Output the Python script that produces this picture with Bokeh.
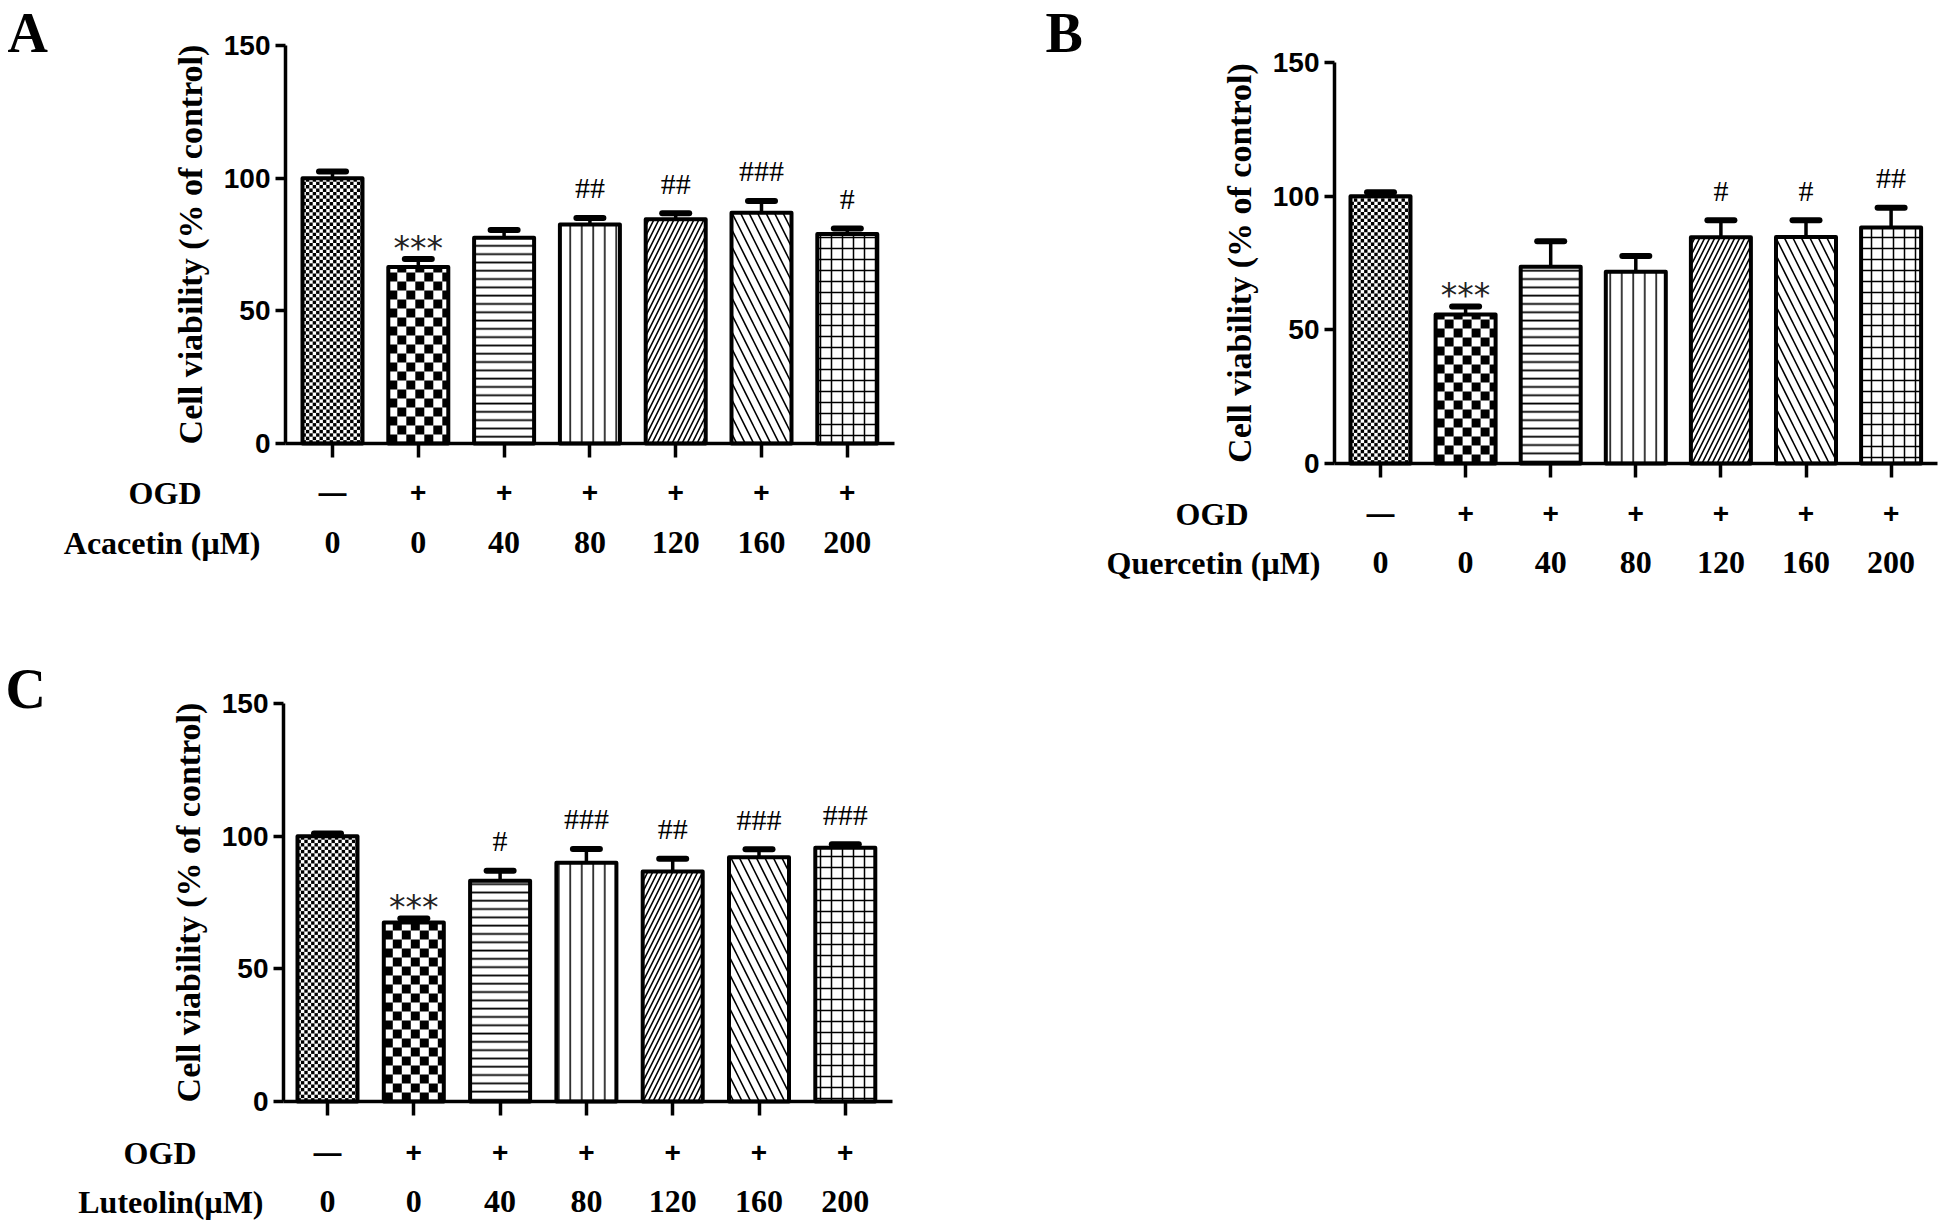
import math
from bokeh.plotting import figure
from bokeh.models import LinearAxis, FixedTicker, ColumnDataSource, Range1d
from bokeh.layouts import column, row
from bokeh.embed import file_html
from bokeh.resources import INLINE
from bokeh.core.properties import value

# ---------------- data ----------------
ogd_row = ["—", "+", "+", "+", "+", "+", "+"]
conc_row = ["0", "0", "40", "80", "120", "160", "200"]
y_ticks = [0, 50, 100, 150]
y_label = "Cell viability (% of control)"

acacetin_mean = [100, 66.5, 77.5, 82.5, 84.5, 87.0, 79.0]
acacetin_err = [2.5, 3.0, 3.0, 2.5, 2.3, 4.4, 2.0]
acacetin_sig = ["", "***", "", "##", "##", "###", "#"]

quercetin_mean = [100, 55.7, 73.6, 71.7, 84.6, 84.7, 88.3]
quercetin_err = [1.5, 3.0, 9.5, 5.9, 6.4, 6.3, 7.4]
quercetin_sig = ["", "***", "", "", "#", "#", "##"]

luteolin_mean = [100, 67.5, 83.2, 90.0, 86.7, 92.1, 95.6]
luteolin_err = [1.0, 1.5, 3.8, 5.2, 4.8, 3.0, 1.4]
luteolin_sig = ["", "***", "#", "###", "##", "###", "###"]

# ---------------- styles ----------------
SERIF = "Liberation Serif"
SANS = "Liberation Sans"
hatch_patterns = [" ", " ", "-", "|", "/", "\\", "+"]
hatch_scales = [12, 12, 8.3, 11.5, 10, 17, 11]
hatch_weights = [1, 1, 1.8, 1.5, 1.6, 1.6, 1.5]
checker_cells = {0: 3.4, 1: 9.0}   # bar index -> cell size in px
BAR_PX = 60
LW = 4


def make_panel(letter, drug_label, mean, err, sig, W, H, ax_px, b0_px, dx,
               y0_px, y150_px, letter_xy, ogd_y, ogd_right, drug_y, drug_right,
               ylabel_standoff):
    ky = (y0_px - y150_px) / 150.0   # px per data unit (y)
    kx = dx                           # px per data unit (x)

    def X(px):
        return (px - b0_px) / kx

    def Y(py):
        return (y0_px - py) / ky

    p = figure(width=W, height=H, x_range=Range1d(X(0), X(W)),
               y_range=Range1d(Y(H), Y(0)), output_backend="svg",
               toolbar_location=None, min_border=0, x_axis_type=None,
               y_axis_type=None, outline_line_color=None)
    p.background_fill_color = "white"
    p.border_fill_color = "white"

    n = len(mean)
    xs = list(range(n))
    bw = BAR_PX / kx
    src = ColumnDataSource(dict(x=xs, top=mean, hp=hatch_patterns,
                                hs=hatch_scales, hw=hatch_weights))
    # bar fills with hatches
    p.vbar(x="x", top="top", bottom=0, width=bw, source=src,
           fill_color="white", line_color=None, hatch_pattern="hp",
           hatch_scale="hs", hatch_weight="hw", hatch_color="black")

    # checkerboard fills
    L, R, B, T = [], [], [], []
    for i, c in checker_cells.items():
        left_px = -BAR_PX / 2
        h_px = mean[i] * ky
        nx = int(math.ceil(BAR_PX / c))
        ny = int(math.ceil(h_px / c))
        for a in range(nx):
            for b in range(ny):
                if (a + b) % 2:
                    continue
                l = left_px + a * c
                r = min(l + c, BAR_PX / 2)
                bt = b * c
                tp = min(bt + c, h_px)
                L.append(i + l / kx)
                R.append(i + r / kx)
                B.append(bt / ky)
                T.append(tp / ky)
    p.quad(left=L, right=R, bottom=B, top=T, fill_color="black",
           line_color=None)

    # bar outlines
    p.vbar(x="x", top="top", bottom=0, width=bw, source=src,
           fill_alpha=0, line_color="black", line_width=LW,
           line_join="round")

    # error bars (upper only)
    caps = [m + e for m, e in zip(mean, err)]
    p.segment(x0=xs, y0=mean, x1=xs, y1=caps, line_color="black",
              line_width=3.5)
    half_cap = 13.5 / kx
    p.segment(x0=[x - half_cap for x in xs], y0=caps,
              x1=[x + half_cap for x in xs], y1=caps, line_color="black",
              line_width=6, line_cap="round")

    # significance markers
    hx, hy, ht, sx, sy, st = [], [], [], [], [], []
    for i, s in enumerate(sig):
        if not s:
            continue
        if s.startswith("*"):
            sx.append(i); sy.append(caps[i] + 11.0 / ky); st.append(s)
        else:
            hx.append(i); hy.append(caps[i] + 30.0 / ky); ht.append(s)
    p.text(x=hx, y=hy, text=ht, text_font=value(SERIF),
           text_font_size="30px", text_align="center",
           text_baseline="alphabetic", text_color="black")
    p.text(x=sx, y=sy, text=st, text_font=value("DejaVu Sans"),
           text_font_size="33px", text_align="center",
           text_baseline="alphabetic", text_color="#222222")

    # axes
    x_axis_at = X(ax_px)
    yax = LinearAxis(fixed_location=x_axis_at, bounds=(0, 150),
                     ticker=FixedTicker(ticks=y_ticks, minor_ticks=[]),
                     axis_label=y_label)
    yax.axis_line_width = 3.5
    yax.major_tick_line_width = 3.5
    yax.major_tick_out = 10
    yax.major_tick_in = 0
    yax.minor_tick_out = 0
    yax.minor_tick_in = 0
    yax.major_label_standoff = 5
    yax.major_label_text_font = SANS
    yax.major_label_text_font_style = "bold"
    yax.major_label_text_font_size = "28px"
    yax.major_label_text_color = "black"
    yax.axis_label_text_font = SERIF
    yax.axis_label_text_font_style = "bold"
    yax.axis_label_text_font_size = "34px"
    yax.axis_label_text_color = "black"
    yax.axis_label_standoff = ylabel_standoff
    p.add_layout(yax, "left")

    xax = LinearAxis(fixed_location=0, bounds=(x_axis_at, n - 1 + 0.55),
                     ticker=FixedTicker(ticks=xs, minor_ticks=[]))
    xax.axis_line_width = 3.5
    xax.major_tick_line_width = 3.5
    xax.major_tick_out = 14
    xax.major_tick_in = 0
    xax.minor_tick_out = 0
    xax.major_label_text_font_size = "0px"
    xax.major_label_text_alpha = 0
    p.add_layout(xax, "below")

    # condition rows
    sign_y = Y(ogd_y)
    p.text(x=xs, y=[sign_y] * n, text=ogd_row, text_font=value(SANS),
           text_font_size="28px", text_font_style="bold",
           text_align="center", text_baseline="middle", text_color="black")
    conc_y = Y(drug_y)
    p.text(x=xs, y=[conc_y] * n, text=conc_row, text_font=value(SERIF),
           text_font_size="32px", text_font_style="bold",
           text_align="center", text_baseline="middle", text_color="black")
    p.text(x=[X(ogd_right)], y=[sign_y], text=["OGD"],
           text_font=value(SERIF), text_font_size="32px",
           text_font_style="bold", text_align="right",
           text_baseline="middle", text_color="black")
    p.text(x=[X(drug_right)], y=[conc_y], text=[drug_label],
           text_font=value(SERIF), text_font_size="32px",
           text_font_style="bold", text_align="right",
           text_baseline="middle", text_color="black")

    # panel letter
    p.text(x=[X(letter_xy[0])], y=[Y(letter_xy[1])], text=[letter],
           text_font=value(SERIF), text_font_size="56px",
           text_font_style="bold", text_align="left",
           text_baseline="top", text_color="black")
    return p


pA = make_panel("A", "Acacetin (μM)", acacetin_mean, acacetin_err,
                acacetin_sig, W=1040, H=630, ax_px=285, b0_px=332, dx=85.8,
                y0_px=443, y150_px=45, letter_xy=(7, 1),
                ogd_y=492, ogd_right=201, drug_y=542, drug_right=260,
                ylabel_standoff=12)
pB = make_panel("B", "Quercetin (μM)", quercetin_mean, quercetin_err,
                quercetin_sig, W=904, H=630, ax_px=294, b0_px=340, dx=85.1,
                y0_px=463, y150_px=62, letter_xy=(5, 1),
                ogd_y=513, ogd_right=208, drug_y=562, drug_right=280,
                ylabel_standoff=12)
pC = make_panel("C", "Luteolin(μM)", luteolin_mean, luteolin_err,
                luteolin_sig, W=1040, H=596, ax_px=283, b0_px=327, dx=86.3,
                y0_px=471, y150_px=73, letter_xy=(5, 27),
                ogd_y=522, ogd_right=196, drug_y=571, drug_right=263,
                ylabel_standoff=12)

layout = column(row(pA, pB), pC)
open("out.html", "w").write(file_html(layout, INLINE))
